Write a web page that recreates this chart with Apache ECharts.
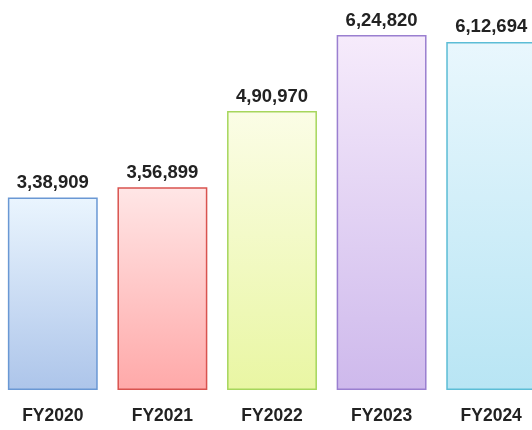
<!DOCTYPE html>
<html><head><meta charset="utf-8">
<script src="https://cdn.jsdelivr.net/npm/echarts@6/dist/echarts.min.js"></script>
<style>html,body{margin:0;padding:0;background:#fff}#c{width:532px;height:430px}</style>
</head><body><div id="c"></div>
<script>
const categories = ['FY2020','FY2021','FY2022','FY2023','FY2024'];
const values = [338909, 356899, 490970, 624820, 612694];
const topColors = ['#eaf5fe','#ffe6e6','#fbfde6','#f6ebfb','#e9f7fd'];
const bottomColors = ['#adc5ea','#ffa9a9','#e9f6a3','#ceb9ec','#b8e5f4'];
const borderColors = ['#6a98d4','#d9534f','#a6d65c','#9a7fd0','#5cbdd6'];

function fmtIN(n){
  const s = String(n);
  if (s.length <= 3) return s;
  const last3 = s.slice(-3);
  let rest = s.slice(0, -3);
  rest = rest.replace(/\B(?=(\d{2})+(?!\d))/g, ',');
  return rest + ',' + last3;
}

const chart = echarts.init(document.getElementById('c'));
chart.setOption({
  animation: false,
  grid: {left: -2, right: -14, top: 35, bottom: 40, containLabel: false, outerBoundsMode: 'none'},
  xAxis: {
    type: 'category', data: categories,
    axisLine: {show: false}, axisTick: {show: false},
    axisLabel: {color: '#222', fontWeight: 'bold', fontSize: 17.5, fontFamily: 'Arial, Liberation Sans, sans-serif', margin: 17}
  },
  yAxis: {type: 'value', min: 0, max: 624820, show: false, splitLine: {show: false}},
  series: [{
    type: 'bar', barCategoryGap: '18%',
    data: values.map((v, i) => ({
      value: v,
      itemStyle: {
        color: new echarts.graphic.LinearGradient(0, 0, 0, 1, [
          {offset: 0, color: topColors[i]}, {offset: 1, color: bottomColors[i]}
        ]),
        borderColor: borderColors[i], borderWidth: 1.5
      }
    })),
    label: {
      show: true, position: 'top', distance: 5,
      color: '#222', fontWeight: 'bold', fontSize: 18.5,
      fontFamily: 'Arial, Liberation Sans, sans-serif',
      formatter: p => fmtIN(p.value)
    }
  }]
});
</script></body></html>
